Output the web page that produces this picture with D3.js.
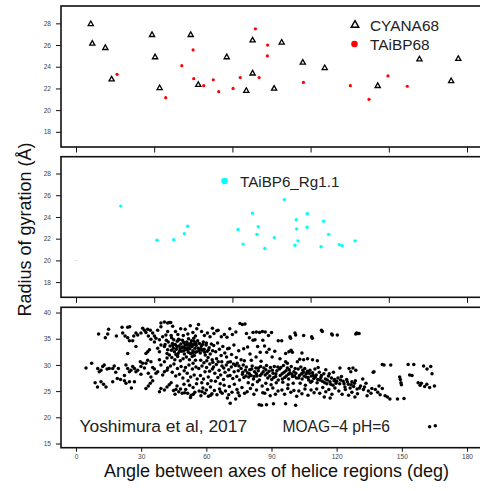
<!DOCTYPE html>
<html><head><meta charset="utf-8">
<script src="https://cdn.jsdelivr.net/npm/d3@7"></script>
<style>body{margin:0;background:#fff}svg{display:block}text{font-family:"Liberation Sans",Arial,sans-serif}</style>
</head><body>
<svg id="chart" width="480" height="491"></svg>
<script>
// ---- data (angle deg, Rg Å) ----
const cyana68 = [[6.8,28.0],[7.5,26.2],[13.5,25.8],[16.4,22.9],[35.0,27.0],[36.4,24.95],[38.5,22.1],[52.8,27.0],[56.3,22.4],[69.4,24.95],[78.4,21.85],[81.3,26.5],[81.3,23.45],[94.7,26.3],[91.2,22.05],[104.4,24.45],[114.5,23.95],[138.9,22.3],[158.1,24.75],[172.7,22.75],[176.0,24.8]];
const taibp68 = [[18.9,23.3],[41.3,21.15],[48.7,24.1],[53.9,25.55],[54.2,22.9],[58.8,22.25],[63.2,22.8],[65.7,21.7],[72.3,22.0],[75.6,23.0],[82.6,27.5],[84.3,23.0],[88.2,26.0],[88.1,25.0],[104.7,22.55],[126.3,22.25],[134.9,21.0],[143.6,23.15],[152.5,22.2]];
const taibp6Faint = [[0,20.0]];
const taibp6 = [[20.6,25.0],[37.3,21.85],[45.0,21.9],[49.9,22.45],[51.4,23.15],[74.6,22.85],[76.9,21.5],[81.2,24.35],[83.3,22.4],[83.9,23.1],[86.9,21.1],[91.3,22.1],[95.9,25.6],[101.4,23.75],[101.6,22.9],[100.8,21.4],[102.2,21.8],[106.5,24.3],[106.4,23.05],[114.0,23.6],[116.3,22.4],[112.8,21.25],[121.2,21.45],[122.5,21.35],[128.5,21.8]];
const moag4 = [
[4.6,29.4],[7.2,30.3],[10.0,29.3],[10.7,28.7],[11.5,29.0],[12.3,29.7],[13.0,30.0],[14.3,29.2],[15.3,29.3],[16.9,29.3],[17.6,29.8],[11.5,26.8],[12.7,26.3],[13.8,25.8],[16.9,26.8],[10.4,35.9],[14.6,35.9],[15.0,36.8],[8.8,26.6],[9.9,25.8],[13.5,35.2],[18.6,35.5],[19.0,27.4],[19.5,29.3],[18.3,28.6],
[21.2,37.2],[23.8,37.2],[24.7,37.3],[21.5,36.1],[22.6,35.5],[23.8,35.2],[24.6,34.6],[26.1,34.6],[26.6,35.5],[27.6,36.1],[28.4,35.7],[29.9,36.1],[23.8,32.2],[27.6,33.5],
[23.8,29.3],[24.6,28.7],[25.3,29.0],[26.1,29.7],[26.9,29.3],[27.6,28.7],[28.4,29.0],[29.9,29.7],[23.0,30.0],[22.3,28.0],[29.6,30.6],[29.9,28.2],
[22.3,27.0],[23.0,26.5],[24.6,26.8],[26.9,26.8],[20.5,27.2],[25.5,25.6],
[30.7,37.0],[31.5,36.6],[32.2,36.2],[33.0,36.8],[34.2,36.6],[35.3,36.1],[36.1,35.5],[36.8,35.1],[37.6,36.6],[39.1,37.3],[39.1,38.0],[40.7,38.2],[42.2,38.0],[42.9,38.1],[33.3,35.5],[34.5,34.9],[36.1,34.4],[38.4,34.8],[39.9,35.4],[41.4,35.7],[42.2,36.4],
[32.2,32.2],[33.0,32.5],[33.8,32.9],[37.6,33.2],[38.4,32.5],[39.1,33.8],[40.7,33.5],[42.2,32.9],[41.9,32.2],[38.4,31.0],[40.7,30.6],[41.9,31.3],
[30.7,30.3],[31.5,29.4],[32.2,30.3],[33.0,30.9],[34.5,30.6],[35.3,29.5],[36.1,29.2],[36.8,28.4],[37.6,28.7],[39.1,30.0],[39.9,28.1],[40.7,28.7],[41.9,29.0],[42.2,29.4],[33.3,28.4],[34.5,27.7],
[32.2,25.5],[33.3,26.0],[34.2,26.5],[35.3,27.0],[38.4,24.9],[39.1,25.5],[40.7,25.2],[41.9,25.8],[42.9,26.2],
[43.6,38.1],[44.5,37.4],[45.8,36.4],[46.9,35.8],[48.2,36.9],[49.4,35.6],[44.0,35.2],[47.5,34.8],
[43.3,33.6],[43.9,32.8],[44.4,34.1],[44.8,33.2],[45.3,32.5],[45.7,33.9],[46.2,33.0],[46.6,34.5],[47.0,32.2],[47.4,33.6],[47.9,33.1],[48.3,34.0],[48.7,32.6],[49.1,33.4],[49.6,34.3],[49.9,32.1],[44.1,31.4],[45.5,31.0],[46.8,31.6],[48.0,30.8],[49.3,31.2],
[43.5,29.8],[44.3,28.6],[45.1,30.2],[45.9,27.9],[46.7,29.3],[47.6,28.2],[48.4,29.7],[49.2,27.5],[49.8,28.9],
[43.8,26.6],[44.9,25.1],[45.6,24.4],[46.5,26.0],[47.3,24.9],[48.1,25.4],[48.9,24.6],[49.7,26.3],
[50.3,36.8],[51.5,35.9],[52.6,37.5],[53.8,36.2],[55.0,35.5],[55.6,36.9],
[50.2,33.8],[50.6,32.9],[51.0,34.4],[51.3,33.3],[51.7,32.4],[52.0,34.0],[52.4,33.1],[52.7,32.2],[53.1,34.6],[53.4,33.5],[53.8,32.7],[54.1,33.9],[54.5,31.8],[54.8,33.2],[55.2,34.2],[55.6,32.5],[50.8,31.5],[52.2,31.0],[53.5,31.6],[55.0,30.9],[51.8,35.0],[54.2,35.1],
[50.4,29.5],[51.2,28.4],[52.0,30.0],[52.8,27.7],[53.6,29.2],[54.4,28.1],[55.2,29.6],[55.8,27.3],[51.6,27.0],[53.9,30.3],
[50.5,25.3],[51.4,24.6],[52.3,26.1],[53.0,24.2],[53.9,25.7],[54.7,24.8],[55.5,26.4],[52.7,23.8],
[56.4,37.7],[57.8,36.4],[59.1,35.6],[60.5,36.1],[61.7,35.4],[62.8,37.0],
[56.3,33.2],[56.8,34.1],[57.2,32.3],[57.7,33.6],[58.1,32.8],[58.6,34.4],[59.0,33.0],[59.5,31.9],[59.9,33.8],[60.4,32.6],[60.8,31.4],[61.3,33.3],[61.8,32.1],[62.3,34.0],[62.7,31.0],[57.4,30.9],[58.9,30.4],[60.2,30.8],[61.6,30.2],[62.9,32.7],
[56.5,29.3],[57.3,28.0],[58.0,29.8],[58.7,27.3],[59.4,28.7],[60.1,29.5],[60.9,27.7],[61.5,28.8],[62.2,27.0],[62.8,29.2],[57.9,26.6],[60.6,26.4],
[56.7,25.0],[57.5,24.1],[58.4,25.6],[59.3,24.6],[60.0,25.2],[61.0,24.0],[61.9,25.8],[62.6,24.5],
[63.5,36.0],[64.8,36.5],[65.4,36.6],[66.9,35.4],[68.3,35.8],[69.5,35.3],
[63.4,33.7],[64.3,32.5],[65.2,34.2],[66.0,33.0],[66.8,31.8],[67.6,33.5],[68.5,32.3],[69.3,31.5],[64.7,31.2],[67.1,30.6],[69.8,33.1],
[63.3,29.6],[63.9,28.4],[64.6,30.1],[65.3,27.6],[65.9,29.0],[66.6,28.1],[67.2,29.8],[67.9,27.2],[68.6,28.6],[69.2,30.0],[69.9,27.9],[64.2,26.9],[66.4,26.4],[68.2,26.1],
[63.7,25.1],[64.9,24.3],[66.1,25.4],[67.3,24.6],[68.8,25.0],[69.7,23.7],
[70.8,36.9],[72.0,35.8],[75.5,37.9],[76.6,37.7],[77.8,37.8],[73.6,36.3],
[70.5,33.2],[71.6,32.0],[72.7,33.8],[73.8,31.4],[74.9,32.7],[76.0,31.0],[77.2,33.1],[71.1,30.6],[74.2,30.3],[77.5,30.8],
[70.3,29.1],[70.9,28.0],[71.5,29.6],[72.2,27.4],[72.8,28.7],[73.4,29.9],[74.0,27.8],[74.7,28.9],[75.3,27.1],[76.0,29.3],[76.6,28.2],[77.3,27.6],[78.0,29.0],
[70.6,25.9],[71.8,24.8],[72.9,26.3],[74.1,25.3],[75.2,24.1],[76.4,25.7],[77.6,24.6],[71.0,22.7],[73.5,23.5],
[78.5,36.0],[79.8,35.2],[81.5,36.2],[83.0,36.3],[84.5,36.2],[85.8,36.4],
[79.0,33.4],[80.1,32.1],[81.5,34.7],[82.4,34.8],[83.6,33.5],[84.8,32.4],[86.0,34.7],[80.7,30.9],[82.9,31.5],[85.2,30.7],
[78.4,29.6],[78.9,28.5],[79.5,27.7],[80.0,29.1],[80.6,28.0],[81.1,29.8],[81.7,27.3],[82.2,28.7],[82.8,29.4],[83.3,27.9],[83.9,28.9],[84.4,27.1],[85.0,29.7],[85.5,28.3],[79.3,26.6],[81.3,26.2],[83.5,26.8],[85.7,26.0],
[78.8,24.9],[80.3,25.5],[81.9,24.4],[83.1,25.2],[84.3,22.4],[85.4,22.3],[86.0,24.7],
[87.1,36.3],[88.6,35.6],[90.0,36.2],
[86.8,33.6],[87.8,32.4],[88.9,33.0],[90.3,31.5],[91.5,32.6],[93.1,34.6],[93.9,31.2],
[86.5,29.4],[87.1,28.1],[87.7,29.9],[88.3,27.5],[88.9,28.8],[89.5,29.5],[90.1,27.2],[90.7,28.4],[91.3,29.7],[91.9,27.8],[92.5,28.9],[93.1,27.1],[93.7,29.2],[87.4,26.5],[89.8,26.2],[92.2,26.6],
[86.9,24.6],[88.2,25.3],[89.4,24.1],[90.6,25.6],[91.8,24.4],[93.0,25.0],[87.7,22.4],[90.9,22.6],
[94.7,34.6],[98.8,35.1],[101.1,35.7],[100.8,36.1],[98.5,35.4],
[96.5,32.2],[98.0,32.5],[99.6,32.4],[96.5,30.6],[97.3,30.3],[101.9,30.6],[99.0,32.8],
[94.3,29.5],[94.9,28.3],[95.5,29.9],[96.1,27.6],[96.7,28.9],[97.3,29.4],[97.9,27.3],[98.5,28.5],[99.1,29.7],[99.7,27.8],[100.3,28.7],[100.9,29.3],[101.5,27.5],[95.2,26.7],[97.6,26.2],[100.0,26.5],
[94.8,25.2],[96.0,24.4],[97.5,25.5],[98.9,24.8],[100.3,25.1],[101.6,24.0],[96.5,22.6],[101.1,22.3],
[108.5,35.4],[108.8,35.1],[104.8,35.6],
[103.0,31.1],[104.8,31.0],[106.6,31.2],[108.9,31.0],[111.1,30.8],[104.0,32.3],
[102.3,29.2],[102.9,28.0],[103.5,29.6],[104.1,27.3],[104.7,28.6],[105.3,29.3],[105.9,27.7],[106.5,28.8],[107.1,27.1],[107.7,29.0],[108.3,27.9],[108.9,28.5],[109.5,27.4],[103.2,26.5],[105.6,26.1],[108.0,26.7],[110.0,29.2],
[102.6,25.0],[104.0,24.5],[105.4,25.4],[106.8,24.2],[108.2,25.2],[109.6,24.7],
[113.4,36.4],[113.0,36.6],[117.7,35.9],[118.0,35.7],[120.3,35.7],
[110.6,28.1],[111.3,27.2],[112.0,28.6],[112.7,27.6],[113.4,26.9],[114.1,28.3],[114.8,27.3],[115.5,26.4],[116.2,27.9],[116.9,26.8],[117.6,27.5],[118.3,26.1],[119.0,27.2],[119.7,26.5],[111.5,29.5],[115.0,29.1],[118.5,28.6],
[110.8,25.4],[112.2,24.6],[113.6,25.7],[115.0,24.9],[116.4,25.3],[117.8,24.4],[119.2,25.6],[114.3,23.9],[117.0,23.7],
[128.8,35.9],[130.3,36.0],[129.2,36.1],[129.8,36.0],
[121.5,29.4],[125.7,29.3],[126.5,28.7],[128.8,29.0],[127.5,29.4],
[120.6,27.5],[121.4,26.4],[122.2,27.8],[123.0,26.9],[123.8,25.8],[124.6,27.2],[125.4,26.3],[126.2,25.6],[127.0,26.8],[127.8,25.9],[128.6,27.0],[129.4,25.4],
[121.0,25.0],[122.5,24.4],[124.0,25.3],[125.5,24.2],[127.0,24.8],[128.4,23.9],[129.6,24.5],
[131.0,26.0],[132.3,25.3],[133.5,26.5],[134.6,25.0],[135.8,24.6],[136.8,28.6],[137.2,28.7],[137.8,25.3],[138.9,24.8],[140.0,24.3],[141.0,25.5],[141.8,30.0],[141.0,30.1],[142.3,24.1],[143.4,23.9],[132.0,27.3],[134.0,24.1],[139.5,26.0],[144.5,23.5],[144.9,30.0],
[148.0,23.5],[151.0,23.6],[149.0,27.7],[149.3,27.2],[149.6,26.6],[149.8,26.2],[152.9,30.1],[155.5,30.1],[153.6,28.1],[154.7,28.0],[160.0,29.8],[161.6,29.2],[163.3,29.7],[163.9,28.3],[157.5,26.6],[158.4,26.1],[159.0,26.5],[160.5,25.9],[161.5,26.3],[162.8,25.7],[165.0,26.0],[162.8,18.2],[165.4,18.4],
[41.0,33.9],[42.5,34.4],[43.0,31.9],[44.6,33.7],[45.0,34.8],[46.0,32.0],[46.4,33.5],[47.2,34.9],[47.7,32.6],[48.5,33.3],[49.0,34.7],[49.5,32.7],[50.0,33.3],[50.9,33.9],[51.5,32.9],[52.3,33.6],[52.9,34.1],[53.6,32.3],[54.3,34.5],[54.9,32.4],[55.4,33.7],[56.0,34.6],[56.6,32.7],[57.5,33.1],[58.3,33.9],[59.2,32.4],[60.0,34.2],[61.0,32.9],[41.6,34.7],[43.8,35.6],
[76.8,28.6],[78.2,27.9],[79.8,28.3],[80.9,29.2],[82.0,27.8],[83.0,28.3],[84.0,29.4],[84.8,28.0],[86.2,28.7],[87.4,29.1],[88.0,28.4],[89.2,27.9],[90.4,29.0],[91.0,27.6],[92.0,28.3],[92.9,29.6],[94.0,28.0],[95.0,27.3],[95.8,28.6],[96.8,27.9],[97.8,28.2],[98.2,29.1],[99.4,28.2],[100.6,27.9],[101.2,28.4],[102.5,27.5],[103.8,28.3],[104.4,29.0],[105.0,27.9],[106.0,28.3],[106.9,27.6],[107.4,28.4],[108.6,26.9],[109.2,28.0],[110.2,27.7],[111.0,26.6],[112.3,27.1],[113.0,28.0],[114.5,26.6],[115.7,27.1],[116.6,28.3],[117.3,26.3],[118.8,27.0],[120.0,26.9],[121.8,27.1],[123.4,26.4],[124.9,26.8],[126.7,26.2],[128.2,26.5],[130.5,25.6],[132.8,25.8],[136.2,25.5],
[63.0,30.5],[65.5,30.6],[68.0,29.4],[70.0,30.5],[72.5,30.2],[75.0,29.8],[77.0,30.0],
[46.0,25.3],[50.0,24.7],[54.0,24.4],[58.0,24.9],[62.0,24.2],[66.5,24.9],[70.3,24.3],[74.6,24.7]
];
const xTickValues = [0,30,60,90,120,150,180];
const upperXTickValues = [0,36,72,108,144,180];
const rgTicksUpper = [18,20,22,24,26,28];
const rgTicksLower = [15,20,25,30,35,40];

// ---- layout ----
const svg = d3.select("#chart");
const left = 61, right = 482;
const x = d3.scaleLinear().domain([0,180]).range([76,467]);
const panels = [
  {top:6, bottom:147, dom:[16.6,29.6], ticks:rgTicksUpper},
  {top:156.7, bottom:297.3, dom:[16.6,29.55], ticks:rgTicksUpper},
  {top:307.3, bottom:447.7, dom:[14.2,41.0], ticks:rgTicksLower}
];
panels.forEach(p => { p.y = d3.scaleLinear().domain(p.dom).range([p.bottom,p.top]); });

function styleAxis(g){
  g.select(".domain").remove();
  g.selectAll(".tick line").attr("stroke","#111").attr("stroke-width",1);
  g.selectAll(".tick text").attr("fill","#444").style("font-size","6.6px");
}

panels.forEach((p,i) => {
  const ya = svg.append("g").attr("transform",`translate(${left},0)`)
    .call(d3.axisLeft(p.y).tickValues(p.ticks).tickSize(5).tickPadding(5));
  styleAxis(ya);
  if (i < 2) {
    const xa = svg.append("g").attr("transform",`translate(0,${p.bottom})`)
      .call(d3.axisBottom(x).tickValues(upperXTickValues).tickSize(5.5).tickFormat(""));
    styleAxis(xa);
  } else {
    const xa = svg.append("g").attr("transform",`translate(0,${p.bottom})`)
      .call(d3.axisBottom(x).tickValues(xTickValues).tickSize(4).tickPadding(3));
    styleAxis(xa);
  }
  svg.append("rect").attr("x",left).attr("y",p.top).attr("width",right-left).attr("height",p.bottom-p.top)
    .attr("fill","none").attr("stroke","#111").attr("stroke-width",1.6);
});

const P1 = panels[0], P2 = panels[1], P3 = panels[2];
const tri = (w,h) => `M0,${-h/2}L${w/2},${h/2}L${-w/2},${h/2}Z`;

// panel 1
svg.append("g").selectAll("path").data(cyana68).join("path")
  .attr("d", tri(5.2,4.6)).attr("transform", d => `translate(${x(d[0])},${P1.y(d[1])})`)
  .attr("fill","none").attr("stroke","#000").attr("stroke-width",1.3);
svg.append("g").selectAll("circle").data(taibp68).join("circle")
  .attr("cx", d => x(d[0])).attr("cy", d => P1.y(d[1])).attr("r",1.6).attr("fill","#ff0000");
svg.append("path").attr("d", tri(7.6,6.6)).attr("transform","translate(355,24)")
  .attr("fill","none").attr("stroke","#000").attr("stroke-width",1.4);
svg.append("circle").attr("cx",354.5).attr("cy",44).attr("r",3.3).attr("fill","#ff0000");
svg.append("text").attr("x",370).attr("y",30.5).text("CYANA68").style("font-size","15.4px").attr("fill","#222");
svg.append("text").attr("x",370).attr("y",50).text("TAiBP68").style("font-size","15.4px").attr("fill","#222");

// panel 2
svg.append("g").selectAll("ellipse").data(taibp6Faint).join("ellipse")
  .attr("cx", d => x(d[0])).attr("cy", d => P2.y(d[1])).attr("rx",2.5).attr("ry",0.5).attr("fill","#e6e6e6");
svg.append("g").selectAll("circle").data(taibp6).join("circle")
  .attr("cx", d => x(d[0])).attr("cy", d => P2.y(d[1])).attr("r",1.7).attr("fill","#00ffff");
svg.append("circle").attr("cx",224.5).attr("cy",181).attr("r",3.3).attr("fill","#00ffff");
svg.append("text").attr("x",240).attr("y",186.5).text("TAiBP6_Rg1.1").style("font-size","15.2px").attr("fill","#222");

// panel 3
svg.append("g").selectAll("circle").data(moag4).join("circle")
  .attr("cx", d => x(d[0])).attr("cy", d => P3.y(d[1])).attr("r",1.75).attr("fill","#000");
svg.append("text").attr("x",79.5).attr("y",432).text("Yoshimura et al, 2017").style("font-size","17.4px").attr("fill","#222");
svg.append("text").attr("x",282.5).attr("y",432).text("MOAG\u22124 pH=6").style("font-size","15.6px").attr("fill","#222");

// axis titles
svg.append("text").attr("x",(x(0)+x(180))/2 + 5).attr("y",477).attr("text-anchor","middle")
  .text("Angle between axes of helice regions (deg)").style("font-size","18px").attr("fill","#111");
svg.append("text").attr("transform","translate(30.5,229.5) rotate(-90)").attr("text-anchor","middle")
  .text("Radius of gyration (\u00C5)").style("font-size","18px").attr("fill","#111");
</script>
</body></html>
